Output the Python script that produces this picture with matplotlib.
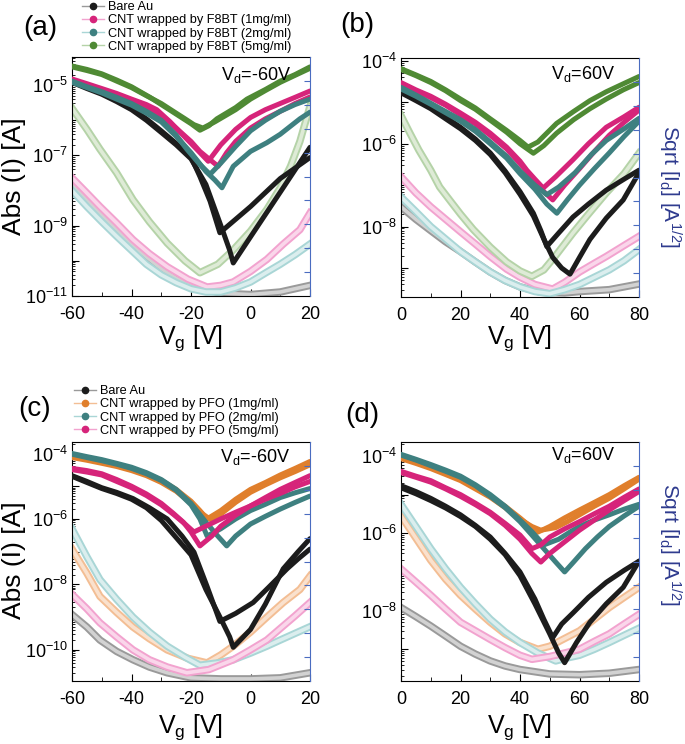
import matplotlib.pyplot as plt
import matplotlib.patheffects as pe
from matplotlib.lines import Line2D
from matplotlib.ticker import LogLocator, NullFormatter, MultipleLocator

plt.rcParams['font.family'] = ['Liberation Sans', 'DejaVu Sans']
plt.rcParams['mathtext.fontset'] = 'custom'
plt.rcParams['mathtext.rm'] = 'Liberation Sans'
plt.rcParams['mathtext.it'] = 'Liberation Sans:italic'
plt.rcParams['mathtext.sf'] = 'Liberation Sans'

BLACK = '#1c1c1c'
MAGENTA = '#d6247a'
TEAL = '#3e8080'
GREEN = '#4f8a34'
ORANGE = '#e07f2c'
PALE = {BLACK: '#9a9a9a', MAGENTA: '#f2a3cf', TEAL: '#a9d6d6',
        GREEN: '#b5d3a8', ORANGE: '#f3be94'}
PALE_IN = {BLACK: '#d2d2d2', MAGENTA: '#fad6ea', TEAL: '#dbeeee',
           GREEN: '#deebd6', ORANGE: '#fae1cd'}
BLUE = '#4a6cc0'
NAVY = '#2e3a8e'

# ---------------- (a) F8BT, Vd = -60 V ----------------
A_BARE_X1 = [-60, -55, -50, -45, -40, -35, -30, -25, -20, -17, -13.6, -10.3, 0, 10, 20]
A_BARE_I1 = [1.3e-5, 9e-6, 6e-6, 3.8e-6, 2.2e-6, 1.1e-6, 5e-7, 2.2e-7, 9e-8, 2.5e-8, 5e-9, 6.3e-10, 3.5e-9, 2.2e-8, 8.7e-8]
A_BARE_X2 = [-60, -55, -50, -45, -40, -35, -30, -25, -20, -15, -12, -9, -7, -5.8, 0, 10, 20]
A_BARE_I2 = [1.2e-5, 8e-6, 5.5e-6, 3.4e-6, 2e-6, 1e-6, 4.5e-7, 2e-7, 8e-8, 1.5e-8, 3e-9, 6e-10, 2e-10, 8.7e-11, 4.8e-10, 9e-9, 1.7e-7]
A_F1_X1 = [-60, -55, -50, -45, -40, -35, -31.5, -27, -23.7, -20, -17, -14.2, -10, -5, 0, 5, 10, 15, 20]
A_F1_I1 = [1.5e-5, 1.1e-5, 8e-6, 5.8e-6, 4e-6, 2.8e-6, 2e-6, 9e-7, 4.6e-7, 2.2e-7, 1.2e-7, 6.8e-8, 2e-7, 5.5e-7, 1.2e-6, 2e-6, 3e-6, 4.5e-6, 6.8e-6]
A_F1_X2 = [-60, -55, -50, -45, -40, -35, -30, -25, -20, -17, -14, -10.9, -8, -5, 0, 5, 10, 15, 20]
A_F1_I2 = [1.4e-5, 1e-5, 7e-6, 5e-6, 3.5e-6, 2.3e-6, 1.4e-6, 6e-7, 2.5e-7, 1.3e-7, 8e-8, 4.9e-8, 1.2e-7, 2.5e-7, 6e-7, 1.1e-6, 1.8e-6, 3e-6, 4.6e-6]
A_F2_X1 = [-60, -55, -50, -45, -40, -35, -30, -25, -21.4, -17, -13.6, -10, -5, 0, 5, 10, 15, 20]
A_F2_I1 = [1.3e-5, 9e-6, 6.5e-6, 4.5e-6, 3e-6, 1.8e-6, 1e-6, 3.8e-7, 1.5e-7, 5.5e-8, 2.9e-8, 6e-8, 1.8e-7, 5e-7, 1e-6, 1.8e-6, 2.8e-6, 4e-6]
A_F2_X2 = [-60, -55, -50, -45, -40, -35, -30, -25, -20, -15, -12, -9.6, -5.8, 0, 5.5, 10, 16.6, 20]
A_F2_I2 = [1.2e-5, 8.5e-6, 6e-6, 4e-6, 2.7e-6, 1.6e-6, 9e-7, 3.5e-7, 1.2e-7, 3.5e-8, 2e-8, 1.2e-8, 4.9e-8, 1.3e-7, 2.3e-7, 4e-7, 1.1e-6, 1.7e-6]
A_F5_X1 = [-60, -55, -50, -45, -40, -33.8, -30, -25, -20, -17, -14, -11.3, -5, -1.2, 5, 10, 15, 20]
A_F5_I1 = [3.5e-5, 2.8e-5, 2.1e-5, 1.4e-5, 9e-6, 4.5e-6, 2.8e-6, 1.5e-6, 8e-7, 5.2e-7, 7e-7, 1.1e-6, 2.3e-6, 4e-6, 7.5e-6, 1.3e-5, 2e-5, 3.3e-5]
A_F5_X2 = [-60, -55, -50, -45, -40, -35, -30, -25, -22, -19, -16, -12, -5, 0, 5, 10, 15, 20]
A_F5_I2 = [3.3e-5, 2.6e-5, 2e-5, 1.3e-5, 8.5e-6, 5e-6, 3e-6, 1.6e-6, 1.1e-6, 7.5e-7, 6e-7, 9e-7, 2e-6, 4e-6, 7e-6, 1.2e-5, 1.9e-5, 3e-5]
# gate leakage (open symbols)
A_BARE_HX = [-60, -55, -50, -45, -40, -35, -30, -25, -20, -15, -10, 0, 10, 20]
A_BARE_HI = [1.5e-8, 5.5e-9, 2e-9, 8e-10, 3e-10, 1.3e-10, 6e-11, 3.2e-11, 2e-11, 1.5e-11, 1.2e-11, 1.1e-11, 1.3e-11, 2e-11]
A_F1_HX = [-60, -55, -50.6, -45, -39.5, -34, -28, -21, -14.6, -10, -5.8, 0, 5.5, 11, 16.6, 20]
A_F1_HI = [2.3e-8, 8.5e-9, 3.5e-9, 1.2e-9, 4e-10, 1.6e-10, 6.8e-11, 3e-11, 1.8e-11, 2e-11, 2.5e-11, 5e-11, 1.1e-10, 3e-10, 7.7e-10, 2.3e-9]
A_F2_HX = [-60, -55, -50, -45, -40, -35, -30, -25, -20, -15, -10, -5, 0, 5, 10, 15, 20]
A_F2_HI = [1e-8, 3.5e-9, 1.3e-9, 5e-10, 2e-10, 8e-11, 4e-11, 2.4e-11, 1.6e-11, 1.3e-11, 1.3e-11, 1.7e-11, 2.5e-11, 4.5e-11, 8e-11, 1.5e-10, 3e-10]
A_F5_HX = [-60, -55, -50.6, -45, -39.5, -34, -28, -22, -17, -11, -5.9, 0, 5.5, 10, 13.5, 16.6, 20]
A_F5_HI = [2.2e-6, 5.5e-7, 1.5e-7, 3.2e-8, 5.5e-9, 1.3e-9, 3.2e-10, 1e-10, 4.6e-11, 8e-11, 2e-10, 7e-10, 2.9e-9, 1.2e-8, 5e-8, 2.5e-7, 2.5e-6]

# ---------------- (b) F8BT, Vd = 60 V ----------------
B_BARE_X1 = [0, 5, 10, 15, 20, 25, 30, 35, 40, 44.5, 47, 49, 53, 57.8, 63, 69, 75, 80]
B_BARE_I1 = [1.9e-5, 1.2e-5, 7.5e-6, 4.4e-6, 2.5e-6, 1.3e-6, 6e-7, 2.2e-7, 7e-8, 2.1e-8, 8e-9, 3.3e-9, 7e-9, 1.7e-8, 3.5e-8, 7.6e-8, 1.4e-7, 2.3e-7]
B_BARE_X2 = [0, 5, 10, 15, 20, 25, 30, 35, 40, 44.5, 48, 51, 54, 56.8, 60, 63.5, 69, 74.7, 80]
B_BARE_I2 = [1.7e-5, 1.1e-5, 7e-6, 4e-6, 2.3e-6, 1.2e-6, 5.5e-7, 2e-7, 6e-8, 1.8e-8, 5e-9, 1.8e-9, 1e-9, 7.1e-10, 1.8e-9, 4.9e-9, 1.6e-8, 4.4e-8, 2e-7]
B_F1_X1 = [0, 5, 10, 15, 20, 25, 30, 35.5, 40, 42.3, 45, 47.8, 52, 57.8, 63, 69, 75, 80]
B_F1_I1 = [3e-5, 2e-5, 1.4e-5, 9e-6, 5.5e-6, 3.3e-6, 1.8e-6, 8.3e-7, 3.8e-7, 2.3e-7, 1.4e-7, 8.5e-8, 1.6e-7, 4.1e-7, 1e-6, 2.5e-6, 4.5e-6, 7.6e-6]
B_F1_X2 = [0, 5, 10, 15, 20, 25, 30, 35.5, 40, 45, 48, 51, 55, 60, 65, 70, 75, 80]
B_F1_I2 = [2.8e-5, 1.9e-5, 1.3e-5, 8.5e-6, 5e-6, 3e-6, 1.6e-6, 7.5e-7, 3.3e-7, 1.3e-7, 7e-8, 4.4e-8, 1e-7, 2.5e-7, 6.5e-7, 1.6e-6, 3.3e-6, 6.5e-6]
B_F2_X1 = [0, 5, 10, 15, 20, 25, 30, 35.5, 40, 45, 49, 53, 58.5, 64, 69, 75, 80]
B_F2_I1 = [2.3e-5, 1.5e-5, 9.5e-6, 6e-6, 3.8e-6, 2.2e-6, 1.1e-6, 5e-7, 2.2e-7, 1e-7, 5.9e-8, 9e-8, 2e-7, 5.5e-7, 1.2e-6, 2.3e-6, 4.1e-6]
B_F2_X2 = [0, 5, 10, 15, 20, 25, 30, 35.5, 40, 45, 49, 52.4, 56, 60, 65, 70, 75, 80]
B_F2_I2 = [2.1e-5, 1.4e-5, 9e-6, 5.6e-6, 3.5e-6, 2e-6, 1e-6, 4.5e-7, 1.9e-7, 8e-8, 3.5e-8, 2.1e-8, 4.5e-8, 1e-7, 2.5e-7, 6e-7, 1.5e-6, 3.5e-6]
B_F5_X1 = [0, 5, 10, 15, 20, 25, 30, 35.5, 40, 42.7, 46, 52.3, 58, 63.5, 69, 74.7, 80]
B_F5_I1 = [6.5e-5, 4.6e-5, 3.2e-5, 2e-5, 1.2e-5, 7.3e-6, 4e-6, 2.1e-6, 1.2e-6, 8.3e-7, 1.1e-6, 3.1e-6, 6e-6, 1.1e-5, 1.8e-5, 2.8e-5, 4.2e-5]
B_F5_X2 = [0, 5, 10, 15, 20, 25, 30, 35.5, 40, 44.5, 48, 52.3, 58, 63.5, 69, 74.7, 80]
B_F5_I2 = [6.2e-5, 4.4e-5, 3e-5, 1.9e-5, 1.1e-5, 6.8e-6, 3.7e-6, 1.9e-6, 1e-6, 5.9e-7, 9e-7, 1.8e-6, 3.8e-6, 7e-6, 1.2e-5, 2e-5, 3e-5]
B_BARE_HX = [0, 5, 10, 15, 20, 25, 30, 35, 40, 47, 55, 60, 70, 80]
B_BARE_HI = [3e-8, 1.5e-8, 8e-9, 4.3e-9, 2.5e-9, 1.4e-9, 8e-10, 5e-10, 3.5e-10, 2.6e-10, 2.5e-10, 2.7e-10, 3e-10, 4.1e-10]
B_F1_HX = [0, 5, 10, 15, 20, 25, 30, 35.5, 40, 45, 51, 55, 60, 65, 69, 75, 80]
B_F1_HI = [1.6e-7, 6.5e-8, 3e-8, 1.5e-8, 7.5e-9, 3.8e-9, 1.9e-9, 9.4e-10, 6e-10, 4e-10, 3.1e-10, 4.5e-10, 8e-10, 1.3e-9, 1.9e-9, 3.5e-9, 5.8e-9]
B_F2_HX = [0, 5, 10, 15, 20, 25, 30, 35, 40, 45, 50, 55, 60, 65, 70, 75, 80]
B_F2_HI = [5.2e-8, 2.3e-8, 1e-8, 5e-9, 2.5e-9, 1.4e-9, 8e-10, 5e-10, 3.5e-10, 2.7e-10, 2.4e-10, 3e-10, 4e-10, 6e-10, 9e-10, 1.5e-9, 2.8e-9]
B_F5_HX = [0, 3, 6, 10, 13, 17, 20, 24.3, 30, 35.5, 40, 44, 48, 52, 57.8, 63, 69, 75, 80]
B_F5_HI = [4.8e-6, 1.8e-6, 7e-7, 2.3e-7, 9e-8, 3.8e-8, 2e-8, 8.5e-9, 3.2e-9, 1.4e-9, 8.5e-10, 6.3e-10, 9e-10, 2e-9, 7e-9, 2e-8, 6.5e-8, 1.9e-7, 5.9e-7]

# ---------------- (c) PFO, Vd = -60 V ----------------
C_BARE_X1 = [-60, -55, -50, -45, -39.5, -34, -28, -23, -19, -14.6, -10.3, -5, 0.9, 6, 12.3, 16, 20]
C_BARE_I1 = [2.1e-5, 1.4e-5, 9e-6, 6.5e-6, 4.2e-6, 2.2e-6, 1e-6, 3e-7, 9.7e-8, 8.7e-9, 7.4e-10, 1.3e-9, 2.8e-9, 8e-9, 3e-8, 6e-8, 1.2e-7]
C_BARE_X2 = [-60, -55, -50, -45, -40, -35, -30, -25, -20, -15, -10, -7, -5.8, 0, 5, 11, 16, 20]
C_BARE_I2 = [2e-5, 1.3e-5, 8.5e-6, 6e-6, 4e-6, 2.2e-6, 9e-7, 2.7e-7, 8e-8, 7e-9, 9e-10, 2.5e-10, 1.2e-10, 4.2e-10, 2.5e-9, 3e-8, 1e-7, 2.5e-7]
C_P1_X1 = [-60, -55, -50, -45, -40, -35, -30, -25, -20, -17, -14.6, -10, -5, 0, 5, 10, 15, 20]
C_P1_I1 = [8e-5, 6.8e-5, 5.5e-5, 4.3e-5, 3.3e-5, 2.3e-5, 1.5e-5, 8e-6, 3.5e-6, 1.8e-6, 1e-6, 1.8e-6, 4e-6, 8e-6, 1.3e-5, 2.2e-5, 3.5e-5, 5.7e-5]
C_P1_X2 = [-60, -55, -50, -45, -40, -35, -30, -25, -20, -16, -13, -10, -5, 0, 5, 10, 15, 20]
C_P1_I2 = [7.5e-5, 6.2e-5, 5e-5, 4e-5, 3e-5, 2.1e-5, 1.3e-5, 7e-6, 3e-6, 1.4e-6, 9e-7, 1.4e-6, 3.2e-6, 6.5e-6, 1.1e-5, 1.8e-5, 2.8e-5, 4.5e-5]
C_P2_X1 = [-60, -55, -50, -45, -40, -35, -30, -25, -20, -15, -11, -8, -5, 0, 5, 10, 15, 20]
C_P2_I1 = [1e-4, 8e-5, 6.5e-5, 5e-5, 3.8e-5, 2.6e-5, 1.6e-5, 8e-6, 3e-6, 8e-7, 3e-7, 1.5e-7, 3e-7, 7e-7, 1.2e-6, 2e-6, 3.2e-6, 5e-6]
C_P2_X2 = [-60, -55, -50, -45, -40, -35, -30, -25, -20, -17, -14.6, -10, -5, 0, 5, 10, 15, 20]
C_P2_I2 = [9.5e-5, 7.5e-5, 6e-5, 4.7e-5, 3.5e-5, 2.4e-5, 1.5e-5, 7.5e-6, 2.7e-6, 1e-6, 3e-7, 5e-7, 1e-6, 1.8e-6, 2.8e-6, 4.5e-6, 6.3e-6, 8.5e-6]
C_P5_X1 = [-60, -55, -50, -45, -40, -35, -30, -26, -22.6, -20, -17, -13, -10, -5, 0, 5, 10, 15, 20]
C_P5_I1 = [3.5e-5, 3e-5, 2.4e-5, 1.6e-5, 1e-5, 5.8e-6, 3e-6, 1.5e-6, 8e-7, 4e-7, 1.5e-7, 3e-7, 6e-7, 1.3e-6, 2.5e-6, 4.5e-6, 8e-6, 1.3e-5, 2.1e-5]
C_P5_X2 = [-60, -55, -50, -45, -40, -35, -30, -26, -22, -19, -15, -10, -5, 0, 5, 10, 15, 20]
C_P5_I2 = [3.2e-5, 2.7e-5, 2.2e-5, 1.4e-5, 9e-6, 5.2e-6, 2.7e-6, 1.4e-6, 7e-7, 4e-7, 6e-7, 1e-6, 1.6e-6, 2.5e-6, 4e-6, 6e-6, 9.5e-6, 1.4e-5]
C_BARE_HX = [-60, -55, -50.6, -45, -39.5, -34, -28, -20, -10, 0, 10, 20]
C_BARE_HI = [1.2e-9, 5e-10, 2e-10, 9e-11, 5e-11, 3e-11, 2e-11, 1.4e-11, 1.3e-11, 1.3e-11, 1.4e-11, 2e-11]
C_P1_HX = [-60, -55, -50.6, -45, -39.5, -34, -28, -21, -14.6, -10, -5.8, 0, 5.5, 11, 16.6, 20]
C_P1_HI = [1.2e-7, 2.2e-8, 4.3e-9, 1.4e-9, 5e-10, 2.2e-10, 1e-10, 5.5e-11, 4e-11, 7e-11, 1.3e-10, 3.5e-10, 1e-9, 2.8e-9, 7e-9, 1.8e-8]
C_P2_HX = [-60, -55, -50.6, -45, -39.5, -34, -28, -22, -17, -11, -5.8, 0, 5.5, 10, 15, 20]
C_P2_HI = [5e-7, 7e-8, 1.4e-8, 3.5e-9, 1e-9, 3.5e-10, 1.3e-10, 6e-11, 3.4e-11, 4e-11, 5e-11, 8e-11, 1.3e-10, 2e-10, 3.2e-10, 5.1e-10]
C_P5_HX = [-60, -55, -50.6, -45, -39.5, -34, -28, -21.4, -14, -5.8, 0, 5.5, 10, 15, 20]
C_P5_HI = [5e-9, 1.8e-9, 6.7e-10, 2.5e-10, 1e-10, 5e-11, 3e-11, 2e-11, 2.5e-11, 5e-11, 1e-10, 2e-10, 4.5e-10, 1.1e-9, 2.8e-9]

# ---------------- (d) PFO, Vd = 60 V ----------------
D_BARE_X1 = [0, 5, 10, 15, 20, 25, 30, 35, 40, 45, 48, 51, 54, 58, 63, 69, 75, 80]
D_BARE_I1 = [1.7e-5, 1.2e-5, 8e-6, 5e-6, 3e-6, 1.6e-6, 8e-7, 3e-7, 1e-7, 2e-8, 6e-9, 2e-9, 4.5e-9, 9e-9, 2.2e-8, 5.4e-8, 1.1e-7, 1.9e-7]
D_BARE_X2 = [0, 5, 10, 15, 20, 25, 30, 35, 40, 45, 50, 53, 55, 59, 63.5, 69, 74.7, 80]
D_BARE_I2 = [1.5e-5, 1.05e-5, 7e-6, 4.5e-6, 2.7e-6, 1.5e-6, 7e-7, 2.8e-7, 8e-8, 1.5e-8, 2.5e-9, 8e-10, 4.5e-10, 1.5e-9, 5e-9, 1.5e-8, 4e-8, 1.9e-7]
D_P1_X1 = [0, 5, 10, 15, 20, 25, 30, 35, 40, 43, 46, 50, 55, 60, 65, 70, 75, 80]
D_P1_I1 = [9e-5, 6.8e-5, 5e-5, 3.6e-5, 2.5e-5, 1.5e-5, 9e-6, 5e-6, 2.5e-6, 1.6e-6, 1.07e-6, 1.5e-6, 2.5e-6, 4e-6, 6.3e-6, 1e-5, 1.7e-5, 2.8e-5]
D_P1_X2 = [0, 5, 10, 15, 20, 25, 30, 35, 40, 44, 47, 52, 56, 60, 65, 70, 75, 80]
D_P1_I2 = [8.5e-5, 6.4e-5, 4.7e-5, 3.3e-5, 2.3e-5, 1.4e-5, 8.5e-6, 4.6e-6, 2.3e-6, 1.5e-6, 1.2e-6, 1.4e-6, 2e-6, 3e-6, 5e-6, 8e-6, 1.4e-5, 2.5e-5]
D_P2_X1 = [0, 5, 10, 15, 20, 25, 30, 35, 40, 44, 48, 53, 57, 60, 65, 70, 75, 80]
D_P2_I1 = [1.1e-4, 8.2e-5, 6e-5, 4.3e-5, 3e-5, 1.8e-5, 1e-5, 5e-6, 2.2e-6, 1.1e-6, 5e-7, 7e-7, 1.1e-6, 1.5e-6, 2.2e-6, 3e-6, 4.2e-6, 5.6e-6]
D_P2_X2 = [0, 5, 10, 15, 20, 25, 30, 35, 40, 44, 48, 52, 55, 58, 62, 66, 70, 75, 80]
D_P2_I2 = [1.05e-4, 7.8e-5, 5.6e-5, 4e-5, 2.8e-5, 1.7e-5, 9e-6, 4.6e-6, 2e-6, 9e-7, 4e-7, 1.8e-7, 1e-7, 1.8e-7, 4e-7, 8e-7, 1.5e-6, 2.8e-6, 5e-6]
D_P5_X1 = [0, 5, 10, 15, 20, 25, 30, 35, 40, 44, 47, 50, 55, 60, 65, 70, 75, 80]
D_P5_I1 = [4e-5, 3e-5, 2.3e-5, 1.5e-5, 1e-5, 6e-6, 3.5e-6, 1.8e-6, 9e-7, 4e-7, 5e-7, 8e-7, 1.3e-6, 2e-6, 3.2e-6, 5e-6, 8.5e-6, 1.4e-5]
D_P5_X2 = [0, 5, 10, 15, 20, 25, 30, 35, 40, 44, 47, 50, 55, 60, 65, 70, 75, 80]
D_P5_I2 = [3.7e-5, 2.8e-5, 2.1e-5, 1.4e-5, 9e-6, 5.5e-6, 3.2e-6, 1.6e-6, 7e-7, 3e-7, 1.8e-7, 3e-7, 6e-7, 1.2e-6, 2.2e-6, 4e-6, 7e-6, 1.2e-5]
D_BARE_HX = [0, 5, 10, 15, 20, 25, 30, 35, 40, 50, 60, 70, 80]
D_BARE_HI = [1.2e-8, 7e-9, 4e-9, 2.2e-9, 1.2e-9, 7.5e-10, 5e-10, 3.7e-10, 3e-10, 2.3e-10, 2.2e-10, 2.4e-10, 3e-10]
D_P1_HX = [0, 5, 10, 15, 20, 25, 30, 35, 40, 46, 50, 55, 60, 65, 70, 75, 80]
D_P1_HI = [2.8e-6, 7.5e-7, 2e-7, 6.5e-8, 2.5e-8, 1.1e-8, 5e-9, 2.5e-9, 1.5e-9, 1e-9, 1.2e-9, 1.9e-9, 3e-9, 6e-9, 1.2e-8, 2.2e-8, 4e-8]
D_P2_HX = [0, 5, 10, 15, 20, 25, 30, 35, 40, 46, 52, 56, 60, 65, 70, 75, 80]
D_P2_HI = [5.6e-6, 1.5e-6, 4e-7, 1.2e-7, 4e-8, 1.5e-8, 6e-9, 2.8e-9, 1.5e-9, 8e-10, 5e-10, 6e-10, 7e-10, 1e-9, 1.5e-9, 2.3e-9, 3.5e-9]
D_P5_HX = [0, 5, 10, 15, 20, 25, 30, 35, 40, 44, 50, 55, 60, 65, 70, 75, 80]
D_P5_HI = [1.2e-7, 5.5e-8, 2.5e-8, 1.1e-8, 5e-9, 3e-9, 1.8e-9, 1.1e-9, 7e-10, 5.5e-10, 6.5e-10, 8e-10, 1e-9, 1.6e-9, 2.5e-9, 4.5e-9, 8e-9]

F8BT_LABELS = ['Bare Au', 'CNT wrapped by F8BT (1mg/ml)',
               'CNT wrapped by F8BT (2mg/ml)', 'CNT wrapped by F8BT (5mg/ml)']
PFO_LABELS = ['Bare Au', 'CNT wrapped by PFO (1mg/ml)',
              'CNT wrapped by PFO (2mg/ml)', 'CNT wrapped by PFO (5mg/ml)']
F8BT_COLORS = [BLACK, MAGENTA, TEAL, GREEN]
PFO_COLORS = [BLACK, ORANGE, TEAL, MAGENTA]

W, H = 685, 744
fig = plt.figure(figsize=(W / 100, H / 100), dpi=100)


def px(x, y):
    return x / W, 1 - y / H


def panel(rect, xlim, xticks, ylim_exp, labelled, colors, filled, hollow):
    ax = fig.add_axes(rect)
    for (hx, hi), c in zip(hollow, colors):
        ax.plot(hx, hi, color=PALE_IN[c], lw=2.6, zorder=2, solid_joinstyle='round',
                path_effects=[pe.Stroke(linewidth=5.4, foreground=PALE[c]), pe.Normal()])
    for (x1, i1, x2, i2), c in zip(filled, colors):
        for xs, ys in ((x1, i1), (x2, i2)):
            ax.plot(xs, ys, color=c, lw=3.6, zorder=3, solid_capstyle='round',
                    solid_joinstyle='round')
    ax.set_yscale('log')
    ax.set_xlim(*xlim)
    ax.set_xticks(xticks)
    ax.set_xticklabels([str(v) for v in xticks])
    ax.xaxis.set_minor_locator(MultipleLocator(10))
    exps = list(range(int(ylim_exp[0]) - 1, int(ylim_exp[1]) + 2))
    ax.set_yticks([10.0 ** e for e in exps],
                  ['$10^{%d}$' % e if e in labelled else '' for e in exps])
    ax.yaxis.set_minor_locator(LogLocator(base=10, subs=range(2, 10), numticks=50))
    ax.yaxis.set_minor_formatter(NullFormatter())
    ax.set_ylim(10.0 ** ylim_exp[0], 10.0 ** ylim_exp[1])
    ax.tick_params(which='both', direction='in', labelsize=13)
    ax.tick_params(axis='x', which='major', length=5, pad=7)
    ax.tick_params(axis='x', which='minor', length=3)
    ax.tick_params(axis='y', which='major', length=5, pad=3)
    ax.tick_params(axis='y', which='minor', length=2.5)
    ax.spines['right'].set_visible(False)
    tw = ax.twinx()
    tw.set_ylim(0, 10)
    tw.set_yticks(range(1, 10))
    tw.tick_params(direction='in', colors=BLUE, length=4, labelright=False)
    for s in ['left', 'top', 'bottom']:
        tw.spines[s].set_visible(False)
    tw.spines['right'].set_color(BLUE)
    return ax


AX_W, AX_H = 238 / W, 239 / H
ax_a = panel([72 / W, 1 - 296 / H, AX_W, AX_H], (-60, 20), [-60, -40, -20, 0, 20],
             (-11, -4.2), [-5, -7, -9, -11], F8BT_COLORS,
             [(A_BARE_X1, A_BARE_I1, A_BARE_X2, A_BARE_I2), (A_F1_X1, A_F1_I1, A_F1_X2, A_F1_I2),
              (A_F2_X1, A_F2_I1, A_F2_X2, A_F2_I2), (A_F5_X1, A_F5_I1, A_F5_X2, A_F5_I2)],
             [(A_BARE_HX, A_BARE_HI), (A_F1_HX, A_F1_HI), (A_F2_HX, A_F2_HI), (A_F5_HX, A_F5_HI)])
ax_b = panel([401 / W, 1 - 297 / H, AX_W, AX_H], (0, 80), [0, 20, 40, 60, 80],
             (-9.7, -3.93), [-4, -6, -8], F8BT_COLORS,
             [(B_BARE_X1, B_BARE_I1, B_BARE_X2, B_BARE_I2), (B_F1_X1, B_F1_I1, B_F1_X2, B_F1_I2),
              (B_F2_X1, B_F2_I1, B_F2_X2, B_F2_I2), (B_F5_X1, B_F5_I1, B_F5_X2, B_F5_I2)],
             [(B_BARE_HX, B_BARE_HI), (B_F1_HX, B_F1_HI), (B_F2_HX, B_F2_HI), (B_F5_HX, B_F5_HI)])
ax_c = panel([72 / W, 1 - 681 / H, AX_W, AX_H], (-60, 20), [-60, -40, -20, 0, 20],
             (-10.95, -3.65), [-4, -6, -8, -10], PFO_COLORS,
             [(C_BARE_X1, C_BARE_I1, C_BARE_X2, C_BARE_I2), (C_P1_X1, C_P1_I1, C_P1_X2, C_P1_I2),
              (C_P2_X1, C_P2_I1, C_P2_X2, C_P2_I2), (C_P5_X1, C_P5_I1, C_P5_X2, C_P5_I2)],
             [(C_BARE_HX, C_BARE_HI), (C_P1_HX, C_P1_HI), (C_P2_HX, C_P2_HI), (C_P5_HX, C_P5_HI)])
ax_d = panel([401 / W, 1 - 681 / H, AX_W, AX_H], (0, 80), [0, 20, 40, 60, 80],
             (-9.82, -3.64), [-4, -6, -8], PFO_COLORS,
             [(D_BARE_X1, D_BARE_I1, D_BARE_X2, D_BARE_I2), (D_P1_X1, D_P1_I1, D_P1_X2, D_P1_I2),
              (D_P2_X1, D_P2_I1, D_P2_X2, D_P2_I2), (D_P5_X1, D_P5_I1, D_P5_X2, D_P5_I2)],
             [(D_BARE_HX, D_BARE_HI), (D_P1_HX, D_P1_HI), (D_P2_HX, D_P2_HI), (D_P5_HX, D_P5_HI)])

# panel letters, axis titles
for lab, (x, y) in zip(['(a)', '(b)', '(c)', '(d)'], [(40, 28), (357, 25), (35, 409), (362, 415)]):
    fig.text(*px(x, y), lab, fontsize=20, ha='center', va='center')
for y in (176, 560):
    fig.text(*px(14, y), 'Abs (I) [A]', fontsize=19, rotation=90, ha='center', va='center')
for x, y in [(191, 338), (520, 338), (191, 727), (520, 727)]:
    fig.text(*px(x, y), r'V$_\mathrm{g}$ [V]', fontsize=18, ha='center', va='center')
for y in (187, 545):
    fig.text(*px(670, y), r'Sqrt [I$_\mathrm{d}$] [A$^{1/2}$]', fontsize=15, color=NAVY,
             rotation=270, ha='center', va='center')
for t, (x, y) in zip([r'V$_\mathrm{d}$=-60V', r'V$_\mathrm{d}$=60V', r'V$_\mathrm{d}$=-60V', r'V$_\mathrm{d}$=60V'],
                     [(256, 75), (583, 74), (255, 457), (583, 455)]):
    fig.text(*px(x, y), t, fontsize=13, ha='center', va='center')


def legend(labels, colors, x, y):
    handles = [Line2D([0], [0], color=PALE[c], lw=1.0, marker='o', ms=4.5,
                      mfc=c, mec=c) for c in colors]
    fig.legend(handles, labels, loc='upper left', bbox_to_anchor=px(x, y), fontsize=9.2,
               frameon=False, handlelength=1.7, handletextpad=0.35, labelspacing=0.1,
               borderpad=0, borderaxespad=0)


legend(F8BT_LABELS, F8BT_COLORS, 82, 1)
legend(PFO_LABELS, PFO_COLORS, 74, 385)

fig.savefig('out.png', dpi=100)
